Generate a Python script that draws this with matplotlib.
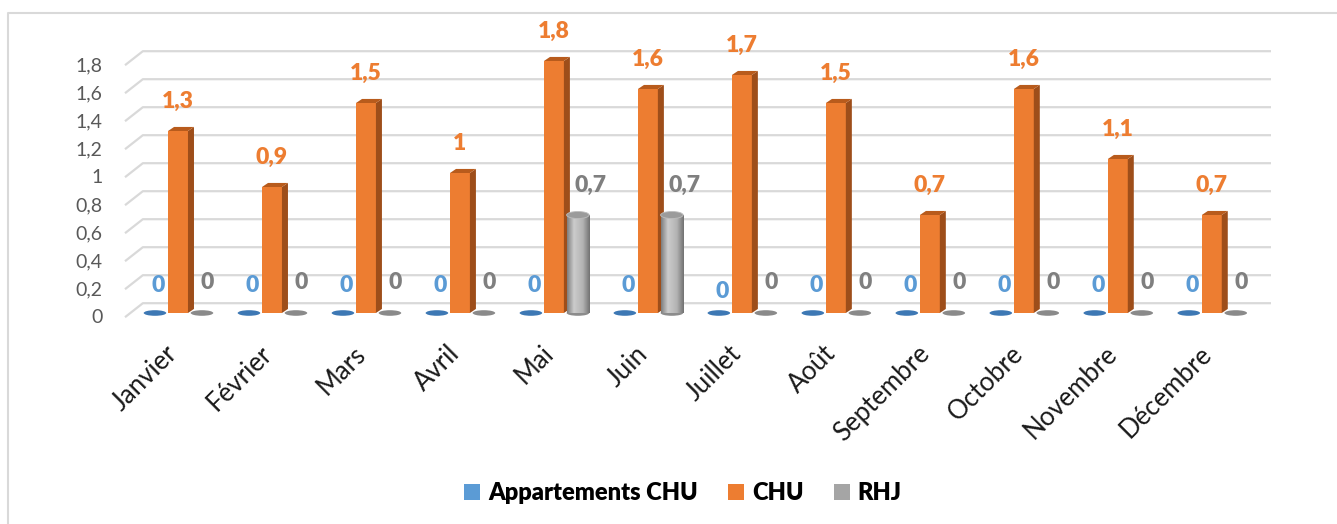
import matplotlib.pyplot as plt
import numpy as np
from matplotlib.patches import Rectangle, Polygon, Ellipse, Patch
from matplotlib.lines import Line2D

plt.rcParams['font.family'] = ['Lato', 'DejaVu Sans']

months = ['Janvier', 'Février', 'Mars', 'Avril', 'Mai', 'Juin', 'Juillet',
          'Août', 'Septembre', 'Octobre', 'Novembre', 'Décembre']
appart_chu = [0, 0, 0, 0, 0, 0, 0, 0, 0, 0, 0, 0]
chu = [1.3, 0.9, 1.5, 1.0, 1.8, 1.6, 1.7, 1.5, 0.7, 1.6, 1.1, 0.7]
rhj = [0, 0, 0, 0, 0.7, 0.7, 0, 0, 0, 0, 0, 0]
yticks = [0, 0.2, 0.4, 0.6, 0.8, 1.0, 1.2, 1.4, 1.6, 1.8]
series_names = ['Appartements CHU', 'CHU', 'RHJ']

BLUE = '#5b9bd5'
ORANGE = '#ed7d31'
GRAY = '#a5a5a5'

def fmt(v):
    s = ('%.1f' % v).rstrip('0').rstrip('.')
    return s.replace('.', ',')

W, H = 1337, 524
fig = plt.figure(figsize=(W / 100, H / 100), dpi=100)
ax = fig.add_axes([125 / W, 1 - 341 / H, 1146 / W, 308 / H])
ax.set_xlim(-0.564, 11.63)
ax.set_ylim(-0.2, 2.0)
ax.axis('off')

# outer frame (only top/left visible)
fig.add_artist(Line2D([8 / W, 8 / W, 1], [0, 1 - 13 / H, 1 - 13 / H],
                      color='#d9d9d9', lw=1.5))

# gridlines on back wall with floor perspective
gx0, gx1 = -0.564, 11.63
gdx, gdy = 0.19, 0.10
for v in yticks:
    yf = v - 0.03
    ax.plot([gx0, gx0 + gdx, gx1], [yf, yf + gdy, yf + gdy],
            color='#d9d9d9', lw=1.6, zorder=1, clip_on=False,
            solid_capstyle='butt')
    ax.text(-0.80, v - 0.035, fmt(v), ha='right', va='center',
            fontsize=14, color='#595959')

bw = 0.106   # half width of orange bar
dx, dy = 0.064, 0.029
ew, eh = 0.24, 0.04
LBL = dict(fontsize=16.5, fontweight='heavy', ha='center', va='center', zorder=6)

for i in range(len(months)):
    # blue series (zero) - flat disc
    xb = i - 0.245
    ax.add_patch(Ellipse((xb, 0.0), ew, eh, facecolor='#3d78b4',
                         edgecolor='none', zorder=3))
    # orange 3D bar
    v = chu[i]
    ax.add_patch(Rectangle((i - bw, 0), 2 * bw, v, facecolor=ORANGE,
                           edgecolor='none', zorder=4))
    ax.add_patch(Polygon([(i + bw, 0), (i + bw + dx, dy), (i + bw + dx, v + dy),
                          (i + bw, v)], closed=True, facecolor='#9e4e1a',
                         edgecolor='none', zorder=4))
    ax.add_patch(Polygon([(i - bw, v), (i + bw, v), (i + bw + dx, v + dy),
                          (i - bw + dx, v + dy)], closed=True,
                         facecolor='#b85b1c', edgecolor='none', zorder=4))
    # gray series - cylinder
    xg = i + 0.255
    r = rhj[i]
    if r > 0:
        grad = np.linspace(0, 1, 40)
        shade = np.interp(grad, [0, 0.3, 0.7, 1], [0.50, 0.80, 0.70, 0.45])
        img = np.dstack([shade, shade, shade]).reshape(1, -1, 3)
        ax.imshow(img, extent=[xg - ew / 2, xg + ew / 2, 0, r], aspect='auto',
                  zorder=5, interpolation='bilinear')
        ax.add_patch(Ellipse((xg, 0.0), ew, eh, facecolor='#8c8c8c',
                             edgecolor='none', zorder=4.9))
        ax.add_patch(Ellipse((xg, r), ew, 0.05, facecolor='#9b9b9b',
                             edgecolor='#bdbdbd', lw=0.6, zorder=5.1))
        ax.text(xg + 0.13, r + 0.21, fmt(r), color='#7f7f7f', **LBL)
    else:
        ax.add_patch(Ellipse((xg, 0.0), ew, eh, facecolor='#8a8a8a',
                             edgecolor='none', zorder=3))
        ax.text(i + 0.31, 0.22, fmt(r), color='#7f7f7f', **LBL)

    # labels
    ax.text(i, v + 0.21, fmt(v), color=ORANGE, **LBL)
    yb = 0.155 if months[i] == 'Juillet' else 0.2
    ax.text(i - 0.21, yb, fmt(appart_chu[i]), color=BLUE, **LBL)

    ax.text(i - 0.14, -0.2, months[i], rotation=45, rotation_mode='anchor',
            ha='right', va='top', fontsize=18.5, color='#1a1a1a')

handles = [Patch(facecolor=c, edgecolor='none') for c in (BLUE, ORANGE, GRAY)]
fig.legend(handles, series_names, loc='center', ncol=3,
           bbox_to_anchor=(683 / W, 1 - 493 / H), frameon=False,
           prop={'size': 17, 'weight': 'heavy'}, handlelength=0.65,
           handleheight=0.65, handletextpad=0.35, columnspacing=1.3)

fig.savefig('out.png', dpi=100)
